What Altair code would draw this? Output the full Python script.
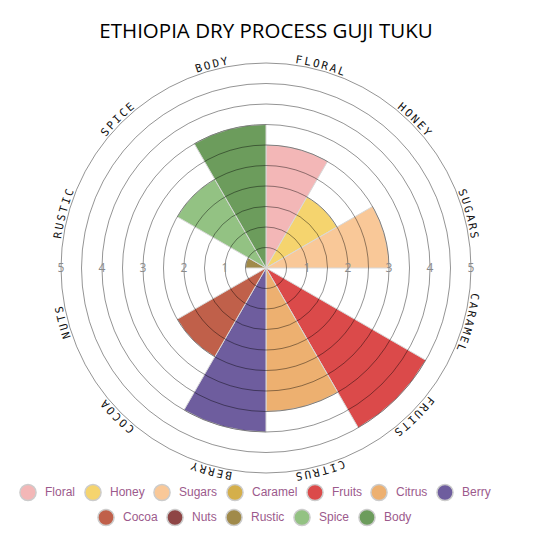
import altair as alt
import pandas as pd

title_text = "Ethiopia Dry Process Guji Tuku"
categories = ["Floral", "Honey", "Sugars", "Caramel", "Fruits", "Citrus",
              "Berry", "Cocoa", "Nuts", "Rustic", "Spice", "Body"]
values = [3, 2, 3, 0, 4.5, 3.5, 4, 2.5, 0, 0.5, 2.5, 3.5]
colors = ["#f3b7b7", "#f5d46e", "#f9c898", "#d4af4b", "#db4a4a", "#edb070",
          "#6e5d9e", "#c0604a", "#8e4545", "#a08a4a", "#93c283", "#6c9c5c"]
ring_values = [0.5, 1, 1.5, 2, 2.5, 3, 3.5, 4, 4.5, 5]
tick_labels = [1, 2, 3, 4, 5]

N = len(categories)
wedges = pd.DataFrame({
    "cat": categories,
    "value": values,
    "start": list(range(N)),
    "end": [i + 1 for i in range(N)],
})
rings = pd.DataFrame({"r": ring_values})
ticks = pd.DataFrame({
    "r": tick_labels * 2,
    "t": [3] * len(tick_labels) + [9] * len(tick_labels),
    "label": [str(v) for v in tick_labels] * 2,
})

step = 0.08
rows = []
for i, name in enumerate(categories):
    s = name.upper()
    n = len(s)
    for j, ch in enumerate(s):
        t = i + 0.5 + (j - (n - 1) / 2) * step
        rows.append({"ch": ch, "t": t, "ang": t * 30})
letters = pd.DataFrame(rows)

theta_scale = alt.Scale(domain=[0, N], nice=False, zero=True)
radius_scale = alt.Scale(domain=[0, 5], range=[0, 205], zero=True, nice=False)

leg_common = dict(
    orient="none", direction="horizontal", title=None,
    labelFont="Liberation Sans", labelFontSize=12, labelColor="#9c5a8c",
    symbolType="circle", symbolSize=260, symbolStrokeColor="#cccccc",
    symbolStrokeWidth=1.5, symbolOpacity=1, columnPadding=5, labelOffset=8,
    padding=0,
)

first = wedges[wedges["start"] < 7]
second = wedges[wedges["start"] >= 7]

wedge_a = alt.Chart(first).mark_arc(stroke="#d8d8d8", strokeWidth=1).encode(
    theta=alt.Theta("start:Q", scale=theta_scale, stack=False),
    theta2="end:Q",
    radius=alt.Radius("value:Q", scale=radius_scale, stack=False),
    color=alt.Color("cat:N", scale=alt.Scale(domain=categories[:7], range=colors[:7]),
                    legend=alt.Legend(legendX=11, legendY=415, **leg_common)),
)
wedge_b = alt.Chart(second).mark_arc(stroke="#d8d8d8", strokeWidth=1).encode(
    theta=alt.Theta("start:Q", scale=theta_scale, stack=False),
    theta2="end:Q",
    radius=alt.Radius("value:Q", scale=radius_scale, stack=False),
    fill=alt.Fill("cat:N", scale=alt.Scale(domain=categories[7:], range=colors[7:]),
                  legend=alt.Legend(legendX=89, legendY=440, **leg_common)),
)
ring_layer = alt.Chart(rings).mark_arc(
    filled=False, stroke="black", strokeOpacity=0.42, strokeWidth=1,
    theta=0, theta2=6.283185307179586,
).encode(
    radius=alt.Radius("r:Q", scale=radius_scale, stack=False),
)
tick_layer = alt.Chart(ticks).mark_text(
    font="Open Sans", fontSize=12, color="#8a8a8a", baseline="middle", align="center",
).encode(
    theta=alt.Theta("t:Q", scale=theta_scale, stack=False),
    radius=alt.Radius("r:Q", scale=radius_scale, stack=False),
    text="label:N",
)
letter_layer = alt.Chart(letters).mark_text(
    font="DejaVu Sans Mono", fontSize=11, color="#111111",
    baseline="middle", align="center",
).encode(
    theta=alt.Theta("t:Q", scale=theta_scale, stack=False),
    radius=alt.value(210),
    angle=alt.Angle("ang:Q", scale=None),
    text="ch:N",
)

chart = alt.layer(wedge_a, wedge_b, ring_layer, tick_layer, letter_layer).properties(
    width=516, height=400,
    autosize=alt.AutoSizeParams(type="none"),
    padding={"left": 0, "top": 60, "right": 0, "bottom": 60},
    title=alt.Title(title_text.upper(), font="Open Sans", fontSize=20.5,
                    fontWeight="normal", color="black", offset=12, anchor="middle",
                    frame="group"),
).configure_view(strokeWidth=0)

chart.save("out.html", embed_options={"renderer": "svg", "actions": False})
